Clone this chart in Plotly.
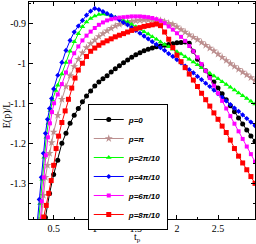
import plotly.graph_objects as go

# ---- data ----
t_black = [0.40,0.45,0.50,0.55,0.60,0.65,0.70,0.75,0.80,0.85,0.90,0.95,1.00,1.05,1.10,1.15,1.20,1.25,1.30,1.35,1.40,1.45,1.50,1.55,1.60,1.65,1.70,1.75,1.80,1.85,1.90,1.95,2.00,2.05,2.10,2.15,2.20,2.25,2.30,2.35,2.40,2.45,2.50,2.55,2.60,2.65,2.70,2.75,2.80,2.85,2.90,2.95]
e_black = [-1.385,-1.325,-1.278,-1.242,-1.200,-1.175,-1.150,-1.130,-1.113,-1.096,-1.082,-1.069,-1.057,-1.047,-1.039,-1.031,-1.022,-1.014,-1.006,-0.999,-0.992,-0.985,-0.979,-0.974,-0.969,-0.965,-0.962,-0.959,-0.957,-0.955,-0.953,-0.951,-0.949,-0.948,-0.947,-0.950,-0.970,-0.990,-1.005,-1.019,-1.033,-1.047,-1.062,-1.076,-1.091,-1.106,-1.121,-1.137,-1.152,-1.167,-1.182,-1.195]

t_brown = [0.35,0.375,0.40,0.425,0.45,0.475,0.50,0.55,0.60,0.65,0.70,0.75,0.80,0.85,0.90,0.95,1.00,1.05,1.10,1.15,1.20,1.25,1.30,1.35,1.40,1.45,1.50,1.55,1.60,1.65,1.70,1.75,1.80,1.85,1.90,1.95,2.00,2.05,2.10,2.15,2.20,2.25,2.30,2.35,2.40,2.45,2.50,2.55,2.60,2.65,2.70,2.75,2.80,2.85,2.90,2.95]
e_brown = [-1.388,-1.330,-1.285,-1.255,-1.225,-1.198,-1.172,-1.130,-1.090,-1.058,-1.031,-1.008,-0.990,-0.974,-0.961,-0.951,-0.942,-0.933,-0.926,-0.919,-0.913,-0.907,-0.903,-0.900,-0.897,-0.895,-0.894,-0.893,-0.892,-0.892,-0.892,-0.892,-0.893,-0.896,-0.900,-0.903,-0.909,-0.916,-0.922,-0.929,-0.935,-0.941,-0.948,-0.955,-0.962,-0.969,-0.977,-0.985,-0.993,-1.001,-1.008,-1.015,-1.022,-1.029,-1.036,-1.043]

t_green = [0.31,0.335,0.36,0.385,0.41,0.435,0.46,0.485,0.525,0.55,0.60,0.65,0.70,0.75,0.80,0.85,0.90,0.95,1.00,1.05,1.10,1.15,1.20,1.25,1.30,1.35,1.40,1.45,1.50,1.55,1.60,1.65,1.70,1.75,1.80,1.85,1.90,1.95,2.00,2.05,2.10,2.15,2.20,2.25,2.30,2.35,2.40,2.45,2.50,2.55,2.60,2.65,2.70,2.75,2.80,2.85,2.90,2.95]
e_green = [-1.410,-1.350,-1.290,-1.235,-1.185,-1.150,-1.118,-1.092,-1.068,-1.055,-1.027,-0.998,-0.970,-0.946,-0.926,-0.909,-0.897,-0.888,-0.882,-0.878,-0.877,-0.878,-0.881,-0.885,-0.889,-0.893,-0.897,-0.903,-0.909,-0.915,-0.921,-0.927,-0.934,-0.940,-0.947,-0.953,-0.959,-0.965,-0.971,-0.977,-0.984,-0.990,-0.997,-1.004,-1.011,-1.018,-1.025,-1.032,-1.039,-1.046,-1.053,-1.060,-1.067,-1.074,-1.081,-1.088,-1.095,-1.102]

t_blue = [0.30,0.325,0.35,0.375,0.40,0.425,0.45,0.475,0.50,0.55,0.60,0.65,0.70,0.75,0.80,0.85,0.90,0.95,1.00,1.05,1.10,1.15,1.20,1.25,1.30,1.35,1.40,1.45,1.50,1.55,1.60,1.65,1.70,1.75,1.80,1.85,1.90,1.95,2.00,2.05,2.10,2.15,2.20,2.25,2.30,2.35,2.40,2.45,2.50,2.55,2.60,2.65,2.70,2.75,2.80,2.85,2.90,2.95]
e_blue = [-1.400,-1.340,-1.285,-1.225,-1.175,-1.140,-1.113,-1.088,-1.064,-1.030,-0.998,-0.968,-0.943,-0.922,-0.907,-0.893,-0.880,-0.870,-0.863,-0.866,-0.871,-0.876,-0.881,-0.886,-0.892,-0.898,-0.904,-0.911,-0.918,-0.925,-0.932,-0.939,-0.946,-0.953,-0.961,-0.968,-0.976,-0.983,-0.991,-0.999,-1.007,-1.016,-1.024,-1.033,-1.041,-1.050,-1.058,-1.067,-1.076,-1.085,-1.094,-1.103,-1.112,-1.120,-1.129,-1.138,-1.147,-1.156]

t_mag = [0.33,0.355,0.38,0.405,0.43,0.455,0.48,0.505,0.55,0.60,0.65,0.70,0.75,0.80,0.85,0.90,0.95,1.00,1.05,1.10,1.15,1.20,1.25,1.30,1.35,1.40,1.45,1.50,1.55,1.60,1.65,1.70,1.75,1.80,1.85,1.90,1.95,2.00,2.05,2.10,2.15,2.20,2.25,2.30,2.35,2.40,2.45,2.50,2.55,2.60,2.65,2.70,2.75,2.80,2.85,2.90,2.95]
e_mag = [-1.410,-1.345,-1.285,-1.230,-1.185,-1.150,-1.122,-1.100,-1.078,-1.052,-1.023,-0.996,-0.975,-0.958,-0.943,-0.931,-0.921,-0.912,-0.904,-0.898,-0.893,-0.890,-0.888,-0.886,-0.885,-0.884,-0.883,-0.883,-0.883,-0.884,-0.885,-0.887,-0.890,-0.894,-0.900,-0.908,-0.916,-0.925,-0.934,-0.944,-0.957,-0.970,-0.985,-1.002,-1.019,-1.037,-1.056,-1.075,-1.094,-1.113,-1.132,-1.151,-1.170,-1.189,-1.208,-1.227,-1.246]

t_red = [0.38,0.41,0.44,0.47,0.50,0.53,0.56,0.60,0.64,0.68,0.72,0.76,0.80,0.85,0.90,0.95,1.00,1.05,1.10,1.15,1.20,1.25,1.30,1.35,1.40,1.45,1.50,1.55,1.60,1.65,1.70,1.75,1.80,1.85,1.90,1.95,2.00,2.05,2.10,2.15,2.20,2.25,2.30,2.35,2.40,2.45,2.50,2.55,2.60,2.65,2.70,2.75,2.80,2.85,2.90,2.95]
e_red = [-1.384,-1.355,-1.325,-1.293,-1.255,-1.213,-1.182,-1.148,-1.119,-1.090,-1.062,-1.037,-1.017,-1.000,-0.983,-0.970,-0.962,-0.955,-0.949,-0.944,-0.939,-0.934,-0.930,-0.926,-0.922,-0.918,-0.914,-0.911,-0.908,-0.906,-0.904,-0.902,-0.906,-0.922,-0.940,-0.961,-0.980,-0.996,-1.011,-1.027,-1.042,-1.058,-1.075,-1.091,-1.107,-1.124,-1.140,-1.157,-1.173,-1.192,-1.213,-1.232,-1.249,-1.266,-1.283,-1.300]

series_names = ["p=0", "p=\u03c0", "p=2\u03c0/10", "p=4\u03c0/10", "p=6\u03c0/10", "p=8\u03c0/10"]

x_tickvals = [0.5, 1.0, 1.5, 2.0, 2.5]
x_ticktext = ["0.5", "1", "1.5", "2", "2.5"]
y_tickvals = [-1.3, -1.2, -1.1, -1.0, -0.9]
y_ticktext = ["-1.3", "-1.2", "-1.1", "-1", "-0.9"]

# ---- styling ----
colors = ["#000000", "#bc8f8f", "#00ff00", "#0000ff", "#ff00ff", "#ff0000"]
symbols = ["circle", "star", "triangle-up", "diamond", "square", "square"]
sizes = [5, 6, 5, 4, 4, 5]

data = [(t_black, e_black), (t_brown, e_brown), (t_green, e_green),
        (t_blue, e_blue), (t_mag, e_mag), (t_red, e_red)]

fig = go.Figure()
for (tx, ey), name, c, s, sz in zip(data, series_names, colors, symbols, sizes):
    fig.add_trace(go.Scatter(x=tx, y=ey, mode="lines+markers", name=name,
                             line=dict(color=c, width=1),
                             marker=dict(color=c, symbol=s, size=sz, line=dict(width=0)),
                             cliponaxis=True))

serif = "Liberation Serif"
fig.update_layout(
    width=256, height=244,
    margin=dict(l=29, r=1, t=2, b=25, autoexpand=False),
    paper_bgcolor="white", plot_bgcolor="white",
    showlegend=True,
    legend=dict(x=0.26, y=0.53, xanchor="left", yanchor="top",
                bordercolor="black", borderwidth=1, bgcolor="white",
                font=dict(family="Liberation Sans", size=8, color="black",
                          weight="bold", style="italic"),
                itemwidth=30, tracegroupgap=0),
    xaxis=dict(range=[0.2, 2.95], tickmode="array", tickvals=x_tickvals, ticktext=x_ticktext,
               ticks="inside", ticklen=4, tickcolor="black", showline=True, linecolor="black",
               linewidth=1, mirror="allticks", showgrid=False, zeroline=False, automargin=False,
               tickfont=dict(family=serif, size=10, color="black"),
               minor=dict(ticks="inside", ticklen=2, dtick=0.25, tick0=0, tickcolor="black", showgrid=False)),
    yaxis=dict(range=[-1.389, -0.847], tickmode="array", tickvals=y_tickvals, ticktext=y_ticktext,
               ticks="inside", ticklen=4, tickcolor="black", showline=True, linecolor="black",
               linewidth=1, mirror="allticks", showgrid=False, zeroline=False, automargin=False,
               tickfont=dict(family=serif, size=10, color="black"),
               minor=dict(ticks="inside", ticklen=2, dtick=0.05, tick0=0, tickcolor="black", showgrid=False)),
    annotations=[
        dict(text="E(p)/L", xref="paper", yref="paper", x=-0.1, y=0.48, textangle=-90,
             showarrow=False, font=dict(family=serif, size=10, color="black"),
             xanchor="center", yanchor="middle"),
        dict(text="t<sub>p</sub>", xref="paper", yref="paper", x=0.48, y=-0.048,
             showarrow=False, font=dict(family=serif, size=10, color="black"),
             xanchor="center", yanchor="top"),
    ],
)

fig.write_html("out.html", config={"displayModeBar": False},
               post_script="document.body.style.margin='0';document.body.style.padding='0';")
